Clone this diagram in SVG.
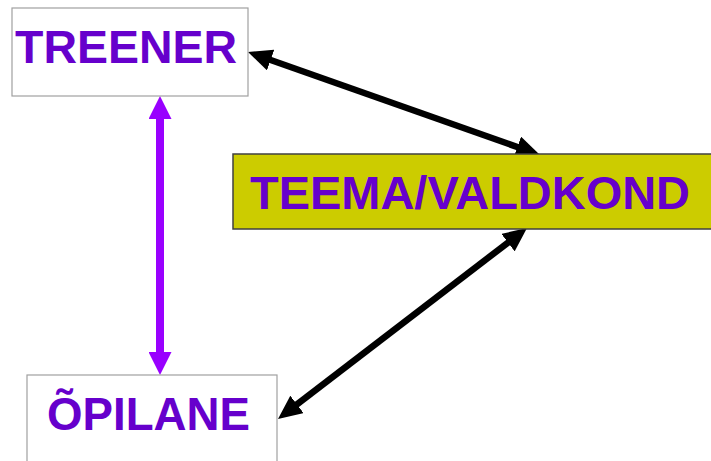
<svg xmlns="http://www.w3.org/2000/svg" width="711" height="461" viewBox="0 0 711 461">
<style>
.box{fill:#fff;stroke:#a0a0a0;stroke-width:1.2}
.theme{fill:#cccc00;stroke:#404040;stroke-width:1.5}
.lbl{font-family:"Liberation Sans",Arial,sans-serif;font-weight:bold;font-size:47px;fill:#6600cc}
.blk{stroke:#000;stroke-width:6.5;fill:none}
.pur{stroke:#9900ff;stroke-width:8;fill:none}
</style>
<defs>
<marker id="hb" markerUnits="userSpaceOnUse" markerWidth="24" markerHeight="22" viewBox="0 0 24 22" refX="12" refY="11" orient="auto-start-reverse"><path d="M0,0 L24,11 L0,22 z" fill="#000"/></marker>
<marker id="hp" markerUnits="userSpaceOnUse" markerWidth="23" markerHeight="23" viewBox="0 0 23 23" refX="11" refY="11.5" orient="auto-start-reverse"><path d="M0,0 L23,11.5 L0,23 z" fill="#9900ff"/></marker>
</defs>
<rect width="711" height="461" fill="#fff"/>
<g id="connectors">
<line class="blk" x1="259.3" y1="56" x2="528.7" y2="151" marker-start="url(#hb)" marker-end="url(#hb)"/>
<line class="blk" x1="517.5" y1="235.3" x2="287.5" y2="411.7" marker-start="url(#hb)" marker-end="url(#hb)"/>
<line class="pur" x1="160" y1="108" x2="160" y2="363" marker-start="url(#hp)" marker-end="url(#hp)"/>
</g>
<g id="treener">
<rect class="box" x="12" y="8" width="236" height="88"/>
<text class="lbl" x="15" y="63" textLength="222" lengthAdjust="spacingAndGlyphs">TREENER</text>
</g>
<g id="teema">
<rect class="theme" x="233" y="154" width="490" height="75"/>
<text class="lbl" x="250" y="209" textLength="440" lengthAdjust="spacingAndGlyphs">TEEMA/VALDKOND</text>
</g>
<g id="opilane">
<rect class="box" x="27" y="375" width="250" height="100"/>
<text class="lbl" x="47" y="430" textLength="203" lengthAdjust="spacingAndGlyphs">ÕPILANE</text>
</g>
</svg>
